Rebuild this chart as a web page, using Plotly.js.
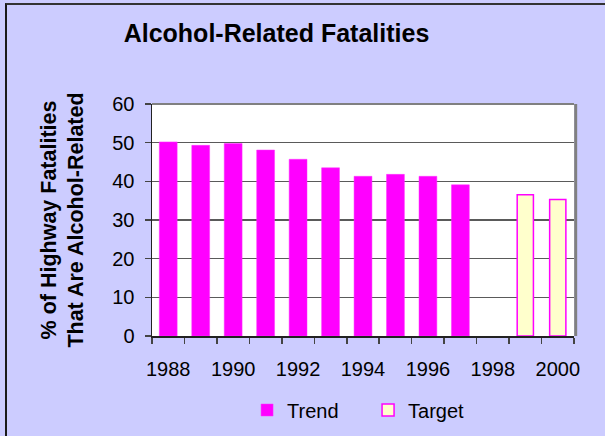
<!DOCTYPE html>
<html>
<head>
<meta charset="utf-8">
<script src="https://cdn.plot.ly/plotly-3.0.1.min.js"></script>
<style>
  html, body { margin: 0; padding: 0; background: #CCCCFF; overflow: hidden; }
  #wrap { position: absolute; left: 0; top: 0; width: 605px; height: 436px; }
  #chart { position: absolute; left: 0; top: 0; width: 605px; height: 436px; }
  #frame { position: absolute; left: 5px; top: 3px; width: 620px; height: 450px;
           border-left: 2px solid #1a1a1a; border-top: 2px solid #333; pointer-events: none; }
</style>
</head>
<body>
<div id="wrap">
  <div id="chart"></div>
  <div id="frame"></div>
</div>
<script>
const years = ['1988','1989','1990','1991','1992','1993','1994','1995','1996','1997','1998','1999','2000'];
const trend = [50.2, 49.3, 49.8, 48.1, 45.7, 43.5, 41.3, 41.8, 41.3, 39.1, null, null, null];
const target = [null, null, null, null, null, null, null, null, null, null, null, 36.5, 35.3];
const tickLabels = ['1988','','1990','','1992','','1994','','1996','','1998','','2000'];

const FONT = 'Liberation Sans, Arial, sans-serif';

const data = [
  {
    type: 'bar', name: 'Trend', x: years, y: trend, width: 0.55,
    marker: { color: '#FF00FF', line: { color: '#FF33FF', width: 0.5 } }
  },
  {
    type: 'bar', name: 'Target', x: years, y: target, width: 0.5,
    marker: { color: '#FFFFCC', line: { color: '#FF00FF', width: 1.5 } }
  }
];

const layout = {
  width: 605, height: 436,
  paper_bgcolor: '#CCCCFF',
  plot_bgcolor: '#FFFFFF',
  margin: { l: 152, r: 31, t: 104, b: 100, autoexpand: false },
  barmode: 'overlay',
  font: { family: FONT, color: '#000', size: 20 },
  title: {
    text: 'Alcohol-Related Fatalities',
    font: { family: FONT, size: 25, color: '#000', weight: 'bold' },
    xref: 'container', x: 0.457, xanchor: 'center',
    yref: 'container', y: 0.924, yanchor: 'middle'
  },
  xaxis: {
    type: 'category', automargin: false,
    tickmode: 'array', tickvals: years, ticktext: tickLabels,
    tickangle: 0,
    tickson: 'boundaries', ticks: 'outside', ticklen: 6, tickcolor: '#444', tickwidth: 1.5,
    ticklabelstandoff: 14,
    showline: true, linecolor: '#222', linewidth: 1.5,
    showgrid: false, zeroline: false,
    tickfont: { family: FONT, size: 20, color: '#000' },
    fixedrange: true
  },
  yaxis: {
    automargin: false,
    range: [0, 60], dtick: 10, tick0: 0,
    ticks: 'outside', ticklen: 6, tickcolor: '#444', tickwidth: 1.5,
    ticklabelstandoff: 6,
    showline: true, linecolor: '#222', linewidth: 1.5,
    showgrid: true, gridcolor: '#5a5a5a', gridwidth: 1.3,
    zeroline: false,
    tickfont: { family: FONT, size: 20, color: '#000' },
    title: {
      text: '% of Highway Fatalities<br>That Are Alcohol-Related',
      font: { family: FONT, size: 21.5, color: '#000', weight: 'bold' },
      standoff: 22
    },
    fixedrange: true
  },
  shapes: [
    { type: 'line', xref: 'paper', yref: 'paper', x0: 0, x1: 1, y0: 1, y1: 1,
      line: { color: '#808080', width: 2 }, layer: 'above' },
    { type: 'line', xref: 'paper', yref: 'paper', x0: 1.004, x1: 1.004, y0: 0, y1: 1,
      line: { color: '#808080', width: 3 }, layer: 'above' }
  ],
  legend: {
    orientation: 'h', xref: 'paper', x: 0.512, xanchor: 'center',
    yref: 'paper', y: -0.319, yanchor: 'middle',
    bgcolor: 'rgba(0,0,0,0)',
    font: { family: FONT, size: 20, color: '#000' },
    itemwidth: 30, entrywidth: 76
  },
  showlegend: true
};

Plotly.newPlot('chart', data, layout, { staticPlot: true, displayModeBar: false });
</script>
</body>
</html>
